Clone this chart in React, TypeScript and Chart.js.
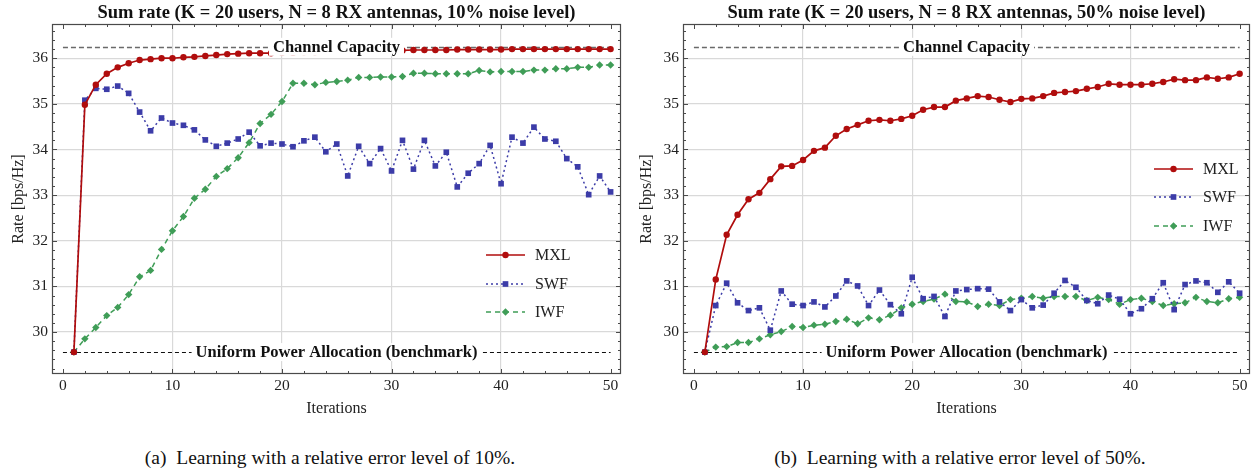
import React, { useEffect, useRef } from 'react';
import { Chart, registerables } from 'chart.js';

Chart.register(...registerables);

const FONT = "'Liberation Serif', 'Times New Roman', serif";

const iterations = [1, 2, 3, 4, 5, 6, 7, 8, 9, 10, 11, 12, 13, 14, 15, 16, 17, 18, 19, 20, 21, 22, 23, 24, 25, 26, 27, 28, 29, 30, 31, 32, 33, 34, 35, 36, 37, 38, 39, 40, 41, 42, 43, 44, 45, 46, 47, 48, 49, 50];

const mxl10 = [29.56, 34.98, 35.42, 35.66, 35.80, 35.89, 35.96, 35.98, 36.00, 36.00, 36.02, 36.03, 36.05, 36.07, 36.09, 36.10, 36.11, 36.11, 36.11, 36.12, 36.12, 36.13, 36.13, 36.14, 36.14, 36.15, 36.15, 36.16, 36.16, 36.17, 36.17, 36.18, 36.18, 36.18, 36.18, 36.19, 36.19, 36.19, 36.19, 36.19, 36.20, 36.20, 36.20, 36.20, 36.20, 36.20, 36.20, 36.20, 36.20, 36.20];
const swf10 = [29.56, 35.08, 35.34, 35.32, 35.39, 35.23, 34.82, 34.41, 34.69, 34.58, 34.53, 34.43, 34.21, 34.07, 34.14, 34.23, 34.38, 34.08, 34.14, 34.12, 34.06, 34.19, 34.27, 33.95, 34.12, 33.42, 34.07, 33.69, 34.02, 33.53, 34.20, 33.57, 34.20, 33.64, 33.94, 33.18, 33.48, 33.69, 34.09, 33.25, 34.27, 34.14, 34.49, 34.23, 34.18, 33.80, 33.62, 33.01, 33.42, 33.07];
const iwf10 = [29.56, 29.85, 30.10, 30.36, 30.54, 30.82, 31.21, 31.35, 31.81, 32.22, 32.53, 32.93, 33.13, 33.41, 33.58, 33.82, 34.15, 34.57, 34.77, 35.05, 35.45, 35.45, 35.42, 35.47, 35.49, 35.52, 35.58, 35.58, 35.59, 35.59, 35.60, 35.67, 35.67, 35.66, 35.66, 35.66, 35.66, 35.73, 35.70, 35.71, 35.71, 35.71, 35.74, 35.74, 35.77, 35.77, 35.80, 35.80, 35.85, 35.85];

const mxl50 = [29.56, 31.15, 32.13, 32.57, 32.91, 33.05, 33.35, 33.63, 33.64, 33.77, 33.97, 34.04, 34.30, 34.45, 34.54, 34.63, 34.65, 34.63, 34.67, 34.74, 34.87, 34.93, 34.93, 35.07, 35.12, 35.17, 35.15, 35.09, 35.04, 35.11, 35.12, 35.17, 35.24, 35.26, 35.28, 35.33, 35.37, 35.44, 35.42, 35.42, 35.42, 35.44, 35.48, 35.54, 35.52, 35.52, 35.58, 35.55, 35.58, 35.66];
const swf50 = [29.56, 30.58, 31.07, 30.64, 30.47, 30.53, 30.04, 30.90, 30.61, 30.58, 30.66, 30.55, 30.79, 31.12, 31.01, 30.58, 30.92, 30.60, 30.40, 31.20, 30.73, 30.78, 30.34, 30.90, 30.93, 30.95, 30.94, 30.66, 30.47, 30.71, 30.53, 30.59, 30.85, 31.13, 30.98, 30.69, 30.62, 30.81, 30.72, 30.40, 30.51, 30.73, 31.08, 30.49, 31.04, 31.12, 31.08, 30.87, 31.10, 30.85];
const iwf50 = [29.56, 29.67, 29.68, 29.77, 29.77, 29.85, 29.94, 30.01, 30.12, 30.10, 30.15, 30.17, 30.23, 30.28, 30.18, 30.31, 30.27, 30.37, 30.53, 30.61, 30.67, 30.72, 30.83, 30.67, 30.66, 30.56, 30.61, 30.58, 30.71, 30.74, 30.78, 30.74, 30.78, 30.78, 30.78, 30.69, 30.76, 30.71, 30.61, 30.71, 30.74, 30.67, 30.58, 30.62, 30.64, 30.76, 30.67, 30.64, 30.73, 30.76];

const CAPACITY = 36.25;
const UNIFORM = 29.56;
const xTickLabels = [0, 10, 20, 30, 40, 50];
const yTickLabels = [30, 31, 32, 33, 34, 35, 36];
const seriesNames = ['MXL', 'SWF', 'IWF'];
const titles = [
  'Sum rate (K = 20 users, N = 8 RX antennas, 10% noise level)',
  'Sum rate (K = 20 users, N = 8 RX antennas, 50% noise level)',
];
const captions = [
  '(a)  Learning with a relative error level of 10%.',
  '(b)  Learning with a relative error level of 50%.',
];

const X_MIN = -1;
const X_MAX = 50.95;
const Y_MIN = 29.08;
const Y_MAX = 36.75;

const COLORS = { MXL: '#b00d0d', SWF: '#3c3ca8', IWF: '#3f9d57' };
const STYLES: Record<string, { dash: number[]; point: string; r: number }> = {
  MXL: { dash: [], point: 'circle', r: 3.2 },
  SWF: { dash: [2, 3], point: 'rect', r: 4 },
  IWF: { dash: [5, 4], point: 'rectRot', r: 3.7 },
};

const CW = 626;
const CH = 420;

function drawMarker(ctx: CanvasRenderingContext2D, style: string, x: number, y: number, r: number) {
  ctx.beginPath();
  if (style === 'circle') {
    ctx.arc(x, y, r, 0, Math.PI * 2);
  } else if (style === 'rect') {
    const s = r * Math.SQRT1_2;
    ctx.rect(x - s, y - s, 2 * s, 2 * s);
  } else {
    ctx.moveTo(x - r, y);
    ctx.lineTo(x, y - r);
    ctx.lineTo(x + r, y);
    ctx.lineTo(x, y + r);
    ctx.closePath();
  }
  ctx.fill();
}

const decorPlugin = {
  id: 'decor',
  beforeDatasetsDraw(chart: any) {
    const { ctx, chartArea: a, scales } = chart;
    const x = scales.x;
    const y = scales.y;
    ctx.save();
    ctx.beginPath();
    ctx.rect(a.left, a.top, a.right - a.left, a.bottom - a.top);
    ctx.clip();
    const x0 = x.getPixelForValue(0);
    const x1 = x.getPixelForValue(50);
    ctx.setLineDash([5, 3]);
    ctx.lineWidth = 1.4;
    ctx.strokeStyle = '#6a6a6a';
    const yc = Math.round(y.getPixelForValue(CAPACITY)) + 0.5;
    ctx.beginPath();
    ctx.moveTo(x0, yc);
    ctx.lineTo(x1, yc);
    ctx.stroke();
    ctx.setLineDash([4, 3]);
    ctx.lineWidth = 1.1;
    ctx.strokeStyle = '#111';
    const yu = Math.round(y.getPixelForValue(UNIFORM)) + 0.5;
    ctx.beginPath();
    ctx.moveTo(x0, yu);
    ctx.lineTo(x1, yu);
    ctx.stroke();
    ctx.restore();
  },
  afterDatasetsDraw(chart: any, _args: any, opts: any) {
    const { ctx, chartArea: a, scales } = chart;
    const x = scales.x;
    const y = scales.y;
    const cx = (a.left + a.right) / 2;
    ctx.save();
    ctx.font = `bold 16.5px ${FONT}`;
    ctx.textAlign = 'center';
    ctx.textBaseline = 'middle';
    const labels: [string, number][] = [
      ['Channel Capacity', CAPACITY],
      ['Uniform Power Allocation (benchmark)', UNIFORM],
    ];
    labels.forEach(([t, v]) => {
      const py = y.getPixelForValue(v);
      const w = ctx.measureText(t).width;
      ctx.fillStyle = '#fff';
      ctx.fillRect(cx - w / 2 - 4, py - 9, w + 8, 18);
      ctx.fillStyle = '#111';
      ctx.fillText(t, cx, py + 1);
    });

    ctx.strokeStyle = '#4a4a4a';
    ctx.lineWidth = 1.2;
    ctx.setLineDash([]);
    ctx.strokeRect(a.left + 0.5, a.top + 0.5, a.right - a.left - 1, a.bottom - a.top - 1);

    ctx.lineWidth = 1;
    ctx.beginPath();
    for (let v = 0; v <= 50; v += 2) {
      const px = Math.round(x.getPixelForValue(v)) + 0.5;
      const len = v % 10 === 0 ? 5 : 3;
      ctx.moveTo(px, a.bottom);
      ctx.lineTo(px, a.bottom - len);
      ctx.moveTo(px, a.top);
      ctx.lineTo(px, a.top + len);
    }
    for (let k = 146; k <= 183; k++) {
      const v = k / 5;
      const py = Math.round(y.getPixelForValue(v)) + 0.5;
      const len = k % 5 === 0 ? 5 : 3;
      ctx.moveTo(a.left, py);
      ctx.lineTo(a.left + len, py);
      ctx.moveTo(a.right, py);
      ctx.lineTo(a.right - len, py);
    }
    ctx.stroke();

    ctx.font = `16px ${FONT}`;
    ctx.textAlign = 'left';
    ctx.textBaseline = 'middle';
    seriesNames.forEach((name, i) => {
      const ly = opts.legendY[i];
      const lx = opts.legendX;
      const col = (COLORS as any)[name];
      const st = STYLES[name];
      ctx.strokeStyle = col;
      ctx.fillStyle = col;
      ctx.lineWidth = 1.5;
      ctx.setLineDash(st.dash);
      ctx.beginPath();
      ctx.moveTo(lx, ly);
      ctx.lineTo(lx + 39, ly);
      ctx.stroke();
      ctx.setLineDash([]);
      drawMarker(ctx, st.point, lx + 19.5, ly, st.r);
      ctx.fillStyle = '#222';
      ctx.fillText(name, lx + 49, ly + 1);
    });

    ctx.font = `bold 18.5px ${FONT}`;
    ctx.textAlign = 'center';
    ctx.fillStyle = '#111';
    ctx.fillText(opts.title, cx, 13);
    ctx.restore();
  },
};

type PanelCfg = {
  left: number;
  title: string;
  mxl: number[];
  swf: number[];
  iwf: number[];
  yAxisWidth: number;
  padRight: number;
  yTitlePad: number;
  legendX: number;
  legendY: number[];
};

function makeConfig(p: PanelCfg): any {
  const mk = (name: string, vals: number[]) => {
    const st = STYLES[name];
    const col = (COLORS as any)[name];
    return {
      label: name,
      data: vals.map((v, i) => ({ x: iterations[i], y: v })),
      borderColor: col,
      backgroundColor: col,
      borderWidth: name === 'MXL' ? 1.7 : 1.5,
      borderDash: st.dash,
      pointStyle: st.point,
      pointRadius: st.r,
      pointBorderWidth: 0,
      pointBackgroundColor: col,
      tension: 0,
      fill: false,
      clip: 0,
    };
  };
  return {
    type: 'line',
    data: {
      datasets: [mk('MXL', p.mxl), mk('SWF', p.swf), mk('IWF', p.iwf)],
    },
    plugins: [decorPlugin],
    options: {
      responsive: false,
      animation: false,
      events: [],
      layout: { padding: { top: 24, left: 0, right: p.padRight, bottom: 0 }, autoPadding: false },
      plugins: {
        legend: { display: false },
        tooltip: { enabled: false },
        title: { display: false },
        decor: { title: p.title, legendX: p.legendX, legendY: p.legendY },
      },
      scales: {
        x: {
          type: 'linear',
          min: X_MIN,
          max: X_MAX,
          afterBuildTicks: (s: any) => {
            s.ticks = xTickLabels.map((v) => ({ value: v }));
          },
          afterFit: (s: any) => {
            s.height = 46;
          },
          grid: {
            color: (c: any) => (c.tick && c.tick.value > 0 && c.tick.value < 50 ? '#d9d9d9' : 'rgba(0,0,0,0)'),
            lineWidth: 1.2,
            drawTicks: false,
          },
          border: { display: false },
          ticks: {
            font: { family: FONT, size: 15.5 },
            color: '#222',
            padding: 3,
            autoSkip: false,
            maxRotation: 0,
            callback: (v: any) => String(v),
          },
          title: {
            display: true,
            text: 'Iterations',
            font: { family: FONT, size: 16 },
            color: '#222',
            padding: { top: 0, bottom: 2 },
          },
        },
        y: {
          type: 'linear',
          min: Y_MIN,
          max: Y_MAX,
          afterBuildTicks: (s: any) => {
            s.ticks = yTickLabels.map((v) => ({ value: v }));
          },
          afterFit: (s: any) => {
            s.width = p.yAxisWidth;
          },
          grid: { color: '#d9d9d9', lineWidth: 1.2, drawTicks: false },
          border: { display: false },
          ticks: {
            font: { family: FONT, size: 15.5 },
            color: '#222',
            padding: 4,
            autoSkip: false,
            callback: (v: any) => String(v),
          },
          title: {
            display: true,
            text: 'Rate [bps/Hz]',
            font: { family: FONT, size: 16 },
            color: '#222',
            padding: { top: p.yTitlePad, bottom: 0 },
          },
        },
      },
    },
  };
}

function Panel({ p }: { p: PanelCfg }) {
  const ref = useRef<HTMLCanvasElement>(null);
  useEffect(() => {
    if (!ref.current) return;
    const chart = new Chart(ref.current, makeConfig(p));
    return () => chart.destroy();
  }, []);
  return (
    <canvas
      ref={ref}
      width={CW}
      height={CH}
      style={{ position: 'absolute', left: p.left, top: 0, width: CW, height: CH }}
    />
  );
}

const panels: PanelCfg[] = [
  {
    left: 0,
    title: titles[0],
    mxl: mxl10,
    swf: swf10,
    iwf: iwf10,
    yAxisWidth: 52,
    padRight: 5,
    yTitlePad: 9,
    legendX: 486,
    legendY: [255, 284, 312],
  },
  {
    left: 626,
    title: titles[1],
    mxl: mxl50,
    swf: swf50,
    iwf: iwf50,
    yAxisWidth: 57,
    padRight: 2,
    yTitlePad: 11,
    legendX: 528,
    legendY: [169, 197, 226],
  },
];

const captionStyle: React.CSSProperties = {
  position: 'absolute',
  top: 446,
  textAlign: 'center',
  fontFamily: FONT,
  fontSize: 19.5,
  lineHeight: '24px',
  whiteSpace: 'pre',
  color: '#111',
};

export default function App() {
  return (
    <div style={{ position: 'absolute', left: 0, top: 0, width: 1252, height: 471, background: '#fff', overflow: 'hidden' }}>
      {panels.map((p, i) => (
        <Panel key={i} p={p} />
      ))}
      <div style={{ ...captionStyle, left: 0, width: 660 }}>{captions[0]}</div>
      <div style={{ ...captionStyle, left: 626, width: 668 }}>{captions[1]}</div>
    </div>
  );
}
